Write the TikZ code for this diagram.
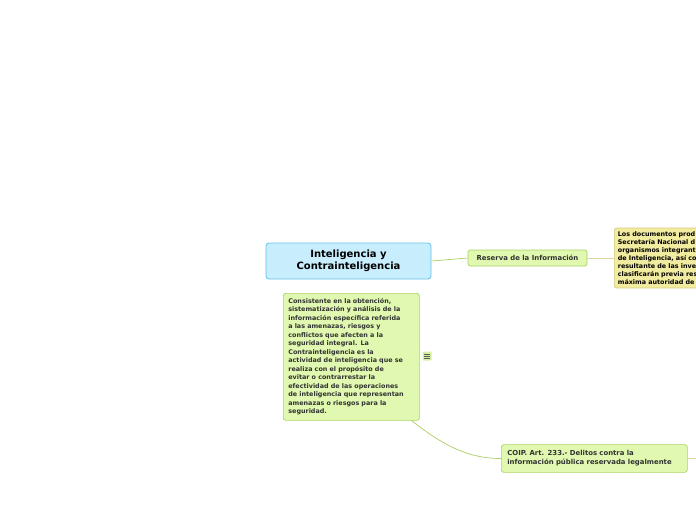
\documentclass[tikz,border=0pt]{standalone}
\usepackage{fontspec}
\setmainfont{DejaVu Sans}
\definecolor{topfill}{RGB}{200,237,252}
\definecolor{topline}{RGB}{100,192,232}
\definecolor{subfill}{RGB}{224,248,176}
\definecolor{subline}{RGB}{170,210,100}
\definecolor{notefill}{RGB}{242,236,160}
\definecolor{noteline}{RGB}{212,204,120}
\definecolor{linkgreen}{RGB}{170,206,100}
\definecolor{linkyellow}{RGB}{218,214,160}
\definecolor{txt}{RGB}{50,50,50}
\tikzset{
  topic/.style={draw=topline,fill=topfill,rounded corners=3pt,line width=0.8pt,
    font=\fontsize{10}{11.5}\selectfont\bfseries,align=center},
  subtopic/.style={draw=subline,fill=subfill,rounded corners=2.5pt,line width=0.7pt,
    text=txt,align=left},
  yellownote/.style={draw=noteline,fill=notefill,rounded corners=2.5pt,line width=0.7pt,
    align=left,font=\fontsize{6.4}{8}\selectfont\bfseries},
  branch/.style={draw=linkgreen,line width=0.7pt},
  branchy/.style={draw=linkyellow,line width=0.7pt}
}
\begin{document}
\begin{tikzpicture}[x=1pt,y=-1pt]
\useasboundingbox (0,0) rectangle (696,520);
\clip (0,0) rectangle (696,520);
% central topic
\node[topic,minimum width=165,minimum height=36] (intel) at (348.5,261)
  {Inteligencia y\\Contrainteligencia};
% right branch
\node[subtopic,minimum width=119,minimum height=16,inner sep=2pt,
  font=\fontsize{6.9}{8}\selectfont\bfseries] (reserva) at (527.5,258)
  {Reserva de la Información};
\node[yellownote,anchor=west,inner sep=3.5pt,text width=150] (docs) at (614,258)
  {Los documentos prod\\
   Secretaría Nacional d\\
   organismos integrant\\
   de Inteligencia, así co\\
   resultante de las inve\\
   clasificarán previa res\\
   máxima autoridad de};
\draw[branch] (intel.east) -- (reserva.west);
\draw[branchy] (reserva.east) -- (docs.west);
% description
\node[subtopic,anchor=north west,inner sep=5pt,text width=126,
  font=\fontsize{6.4}{8.5}\selectfont\bfseries] (desc) at (283,293)
  {Consistente en la obtención,\\
   sistematización y análisis de la\\
   información específica referida\\
   a las amenazas, riesgos y\\
   conflictos que afecten a la\\
   seguridad integral. La\\
   Contrainteligencia es la\\
   actividad de inteligencia que se\\
   realiza con el propósito de\\
   evitar o contrarrestar la\\
   efectividad de las operaciones\\
   de inteligencia que representan\\
   amenazas o riesgos para la\\
   seguridad.};
% note icon
\node[fill=subfill!80!subline,rounded corners=1pt,minimum size=9,inner sep=0pt] (icon) at (427,356) {};
\foreach \dy in {-2,0,2}
  \draw[txt!80,line width=0.6pt] ([xshift=-2.8,yshift=\dy]icon.center) -- ([xshift=2.8,yshift=\dy]icon.center);
% lower branch
\node[subtopic,anchor=west,text width=174,minimum height=23,inner sep=6pt,
  font=\fontsize{6.9}{9}\selectfont\bfseries] (coip) at (501,458.5)
  {COIP. Art. 233.- Delitos contra la\\información pública reservada legalmente};
\draw[branch] ([xshift=-8]desc.south east) .. controls (445,447) and (470,458.5) .. (coip.west);
\coordinate (edge) at (700,458.5);
\draw[branchy] (coip.east) -- (edge);
\end{tikzpicture}
\end{document}
